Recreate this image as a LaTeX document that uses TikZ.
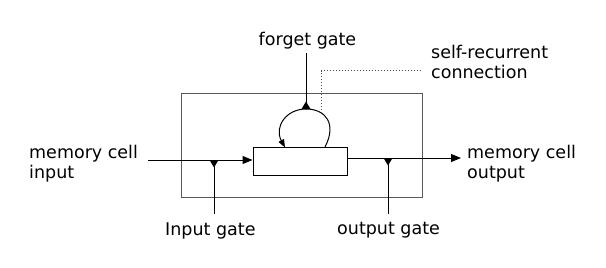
\documentclass[tikz,border=0pt]{standalone}
\usepackage{fontspec}
\setmainfont{DejaVu Sans}
\usetikzlibrary{arrows.meta}
\begin{document}
\begin{tikzpicture}[x=1pt,y=-1pt,
  lbl/.style={font=\fontsize{17.5}{20}\selectfont,inner sep=0pt,anchor=base west,align=left},
  wire/.style={line width=1pt,black},
  arr/.style={wire,-{Triangle[length=10pt,width=8pt]}},
  gatetip/.style={fill=black}]
\useasboundingbox (0,0) rectangle (606,268);
% outer box
\node[draw=black!65,line width=1pt,minimum width=241pt,minimum height=104pt,inner sep=0pt] (outer) at (301.5,145) {};
% inner cell
\node[draw=black,line width=1pt,minimum width=94pt,minimum height=28pt,inner sep=0pt] (cell) at (300,161) {};
% labels (base anchor = baseline of last line)
\node[lbl] (inlbl) at (29,178) {memory cell\\input};
\node[lbl] (outlbl) at (467,178) {memory cell\\output};
\node[lbl,anchor=base] (forget) at (307.5,45) {forget gate};
\node[lbl] (igate) at (165,235) {Input gate};
\node[lbl] (ogate) at (337,234) {output gate};
\node[lbl] (self) at (431,78) {self-recurrent\\connection};
% coordinates
\coordinate (inA) at (148,160);
\coordinate (outB) at (461,158);
\coordinate (ij) at (214,160);
\coordinate (ie) at (214,214);
\coordinate (oj) at (388,158);
\coordinate (oe) at (388,214);
\coordinate (fs) at (306,53);
\coordinate (fj) at (306,109);
\coordinate (ls) at (325,147);
\coordinate (le) at (285,147.5);
\coordinate (d1) at (321,110);
\coordinate (d2) at (321,70.5);
\coordinate (d3) at (422,70.5);
% input and output wires
\draw[arr] (inA) -- (inA -| cell.west);
\draw[arr] (oj -| cell.east) -- (outB);
% gate wires
\draw[wire] (ie) -- (ij);
\draw[wire] (oe) -- (oj);
\draw[wire] (fs) -- (fj);
% self loop
\draw[wire,-{Triangle[length=8pt,width=6pt]}] (ls) .. controls (337,124) and (326,109) .. (fj) .. controls (286,109) and (274,127) .. (le);
% gate triangles
\fill[gatetip] (ij) +(-4.5,0) -- +(4.5,0) -- +(0,7.5) -- cycle;
\fill[gatetip] (oj) +(-4.5,0) -- +(4.5,0) -- +(0,7.5) -- cycle;
\fill[gatetip] (fj) +(-4.5,0) -- +(4.5,0) -- +(0,-7.5) -- cycle;
% dotted pointer
\draw[black!70,line width=0.9pt,dash pattern=on 0.9pt off 2.1pt] (d1) -- (d2) -- (d3);
\end{tikzpicture}
\end{document}
